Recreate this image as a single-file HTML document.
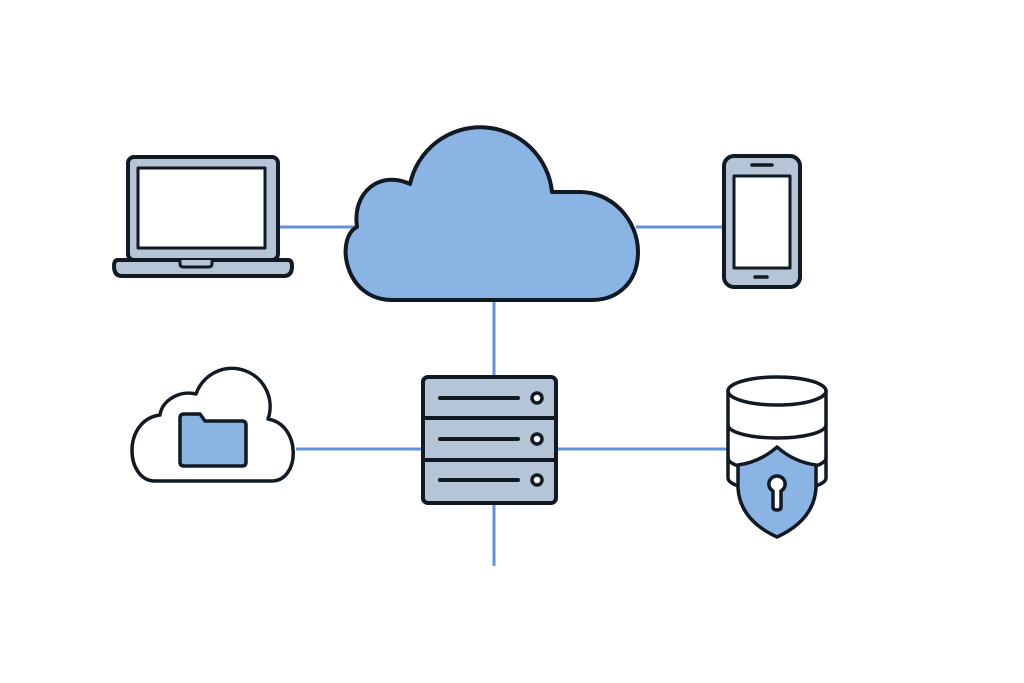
<!DOCTYPE html>
<html><head><meta charset="utf-8"><style>html,body{margin:0;background:#fff}svg{display:block}</style></head><body>
<svg width="1024" height="683" viewBox="0 0 1024 683" xmlns="http://www.w3.org/2000/svg">
<g stroke="#5f92d8" stroke-width="3">
<line x1="278" y1="227" x2="362" y2="227"/>
<line x1="636" y1="227" x2="723" y2="227"/>
<line x1="494" y1="298" x2="494" y2="378"/>
<line x1="494" y1="503" x2="494" y2="566"/>
<line x1="296" y1="449" x2="424" y2="449"/>
<line x1="556" y1="449" x2="730" y2="449"/>
</g>
<g stroke="#111a22" stroke-width="4" stroke-linejoin="round" stroke-linecap="round">
<!-- laptop -->
<rect x="128" y="157" width="150" height="103" rx="6" fill="#b5c4d6"/>
<rect x="138" y="168" width="127" height="80" fill="#fff" stroke-width="3"/>
<path d="M118 260 H288 Q292 260 292 266 Q292 276 284 276 H122 Q114 276 114 266 Q114 260 118 260 Z" fill="#b5c4d6"/>
<path d="M180 260 V264 Q180 267 184 267 H208 Q212 267 212 264 V260" fill="#b5c4d6" stroke-width="3"/>
<!-- main cloud -->
<path d="M392 300 H592 C618 300 638 282 638 252 C638 220 612 192 580 192 C552 192 552 192 552 192 A72 72 0 0 0 410 184 C380 170 352 192 357 227 C335 238 344 300 392 300 Z" fill="#8ab4e3"/>
<!-- phone -->
<rect x="724" y="156" width="76" height="131" rx="10" fill="#b5c4d6"/>
<rect x="734" y="176" width="56" height="92" fill="#fff" stroke-width="3"/>
<line x1="752" y1="165" x2="772" y2="165" stroke-width="3.5"/>
<line x1="755" y1="277" x2="767" y2="277" stroke-width="3.5"/>
<!-- small cloud -->
<path d="M155 481 H272 C300 481 302 425 268 419 A38 38 0 0 0 196 394 C180 390 162 400 160 415 C122 420 125 481 155 481 Z" fill="#fff" stroke-width="3.5"/>
<path d="M180 418 Q180 414 184 414 H200 L205 421 H242 Q246 421 246 425 V462 Q246 466 242 466 H184 Q180 466 180 462 Z" fill="#8ab4e3" stroke-width="3.5"/>
<!-- server -->
<rect x="423" y="377" width="133" height="126" rx="5" fill="#b5c4d6"/>
<line x1="423" y1="418" x2="556" y2="418"/>
<line x1="423" y1="460" x2="556" y2="460"/>
<line x1="440" y1="398" x2="518" y2="398"/>
<line x1="440" y1="439" x2="518" y2="439"/>
<line x1="440" y1="480" x2="518" y2="480"/>
<circle cx="537" cy="398" r="5" fill="#fff" stroke-width="3.5"/>
<circle cx="537" cy="439" r="5" fill="#fff" stroke-width="3.5"/>
<circle cx="537" cy="480" r="5" fill="#fff" stroke-width="3.5"/>
<!-- database -->
<path d="M728 391 V478 A49 13 0 0 0 826 478 V391" fill="#fff" stroke-width="3.5"/>
<path d="M728 425 A49 13 0 0 0 826 425" fill="none" stroke-width="3.5"/>
<path d="M728 458 A49 13 0 0 0 826 458" fill="none" stroke-width="3.5"/>
<ellipse cx="777" cy="391" rx="49" ry="14" fill="#fff" stroke-width="3.5"/>
<path d="M777 447 Q760 462 738 465 V488 Q740 520 777 537 Q814 520 816 488 V465 Q794 462 777 447 Z" fill="#8ab4e3" stroke-width="3.5"/>
<path d="M777 476 A8 8 0 0 1 781 491 V507 Q781 510 777 510 Q773 510 773 507 V491 A8 8 0 0 1 777 476 Z" fill="#fff" stroke-width="3.5"/>
</g>
</svg>
</body></html>
